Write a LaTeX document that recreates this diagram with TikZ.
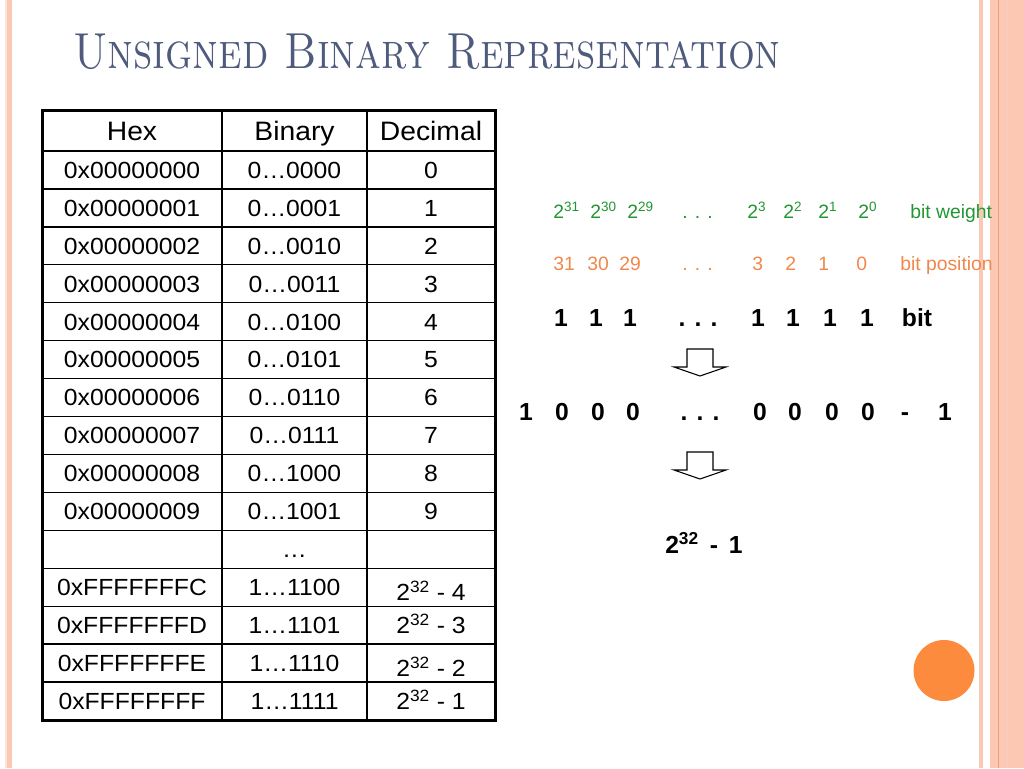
\documentclass[tikz,border=0pt]{standalone}
\usepackage{fontspec}
\usepackage{graphicx}
\setsansfont{Liberation Sans}
\newfontfamily\tabfont[FakeStretch=1.06]{Liberation Sans}
\usepackage{tikz}
\usetikzlibrary{positioning}
\definecolor{titleblue}{RGB}{79,91,125}
\definecolor{weightgreen}{RGB}{34,150,50}
\definecolor{posorange}{RGB}{240,135,75}
\definecolor{bandsalmon}{RGB}{252,200,180}
\definecolor{bandline}{RGB}{232,160,130}
\definecolor{dotorange}{RGB}{253,139,62}
\newcommand{\pw}[1]{\textsuperscript{#1}}
\newcommand{\blockdown}[1]{\draw[blockarrow, shift={(#1)}] (-13,0) -- (13,0) -- (13,18) -- (26,18) -- (0,27) -- (-26,18) -- (-13,18) -- cycle;}

\begin{document}
\begin{tikzpicture}[x=0.75pt, y=-0.75pt,
    cell/.style={draw, line width=1pt, inner sep=0pt, outer sep=0pt, minimum height=28.45pt,
      text height=12.5pt, text depth=0pt, font=\tabfont\fontsize{17.5}{20}\selectfont},
    head/.style={minimum height=30.75pt, text height=14.3pt, font=\tabfont\fontsize{20}{24}\selectfont},
    hexcol/.style={minimum width=135pt},
    bincol/.style={minimum width=108.75pt},
    deccol/.style={minimum width=96pt},
    weight/.style={anchor=base west, inner sep=0pt, text=weightgreen, font=\sffamily\fontsize{14.5}{16}\selectfont},
    position/.style={weight, text=posorange},
    bitval/.style={anchor=base, inner sep=0pt, font=\sffamily\bfseries\fontsize{18.5}{22}\selectfont},
    blockarrow/.style={draw, fill=white, line width=0.8pt}]
    \useasboundingbox (0,0) rectangle (1024,768);

    % slide border bands
    \fill[bandsalmon!50] (5,0) rectangle (7,768);
    \fill[bandsalmon] (7,0) rectangle (12,768);
    \fill[bandsalmon] (979,0) rectangle (983,768);
    \fill[bandsalmon] (990,0) rectangle (1024,768);
    \draw[bandline, line width=0.75pt] (998.5,0) -- (998.5,768);
    \draw[bandline!50, line width=0.5pt] (1007.5,0) -- (1007.5,768);

    \node[anchor=base west, inner sep=0pt, text=titleblue] (title) at (73,68)
      {\scalebox{0.834}[1]{\fontsize{38}{40}\selectfont\textsc{Unsigned Binary Representation}}};

    % table
    \node[cell, head, hexcol] (hex) at (42,110) [anchor=north west] {Hex};
    \node[cell, head, bincol] (bin) [right=0pt of hex] {Binary};
    \node[cell, head, deccol] (dec) [right=0pt of bin] {Decimal};
    \node[cell, hexcol] (a0) [below=0pt of hex] {0x00000000};
    \node[cell, bincol] (b0) [right=0pt of a0] {0…0000};
    \node[cell, deccol] (c0) [right=0pt of b0] {0};
    \node[cell, hexcol] (a1) [below=0pt of a0] {0x00000001};
    \node[cell, bincol] (b1) [right=0pt of a1] {0…0001};
    \node[cell, deccol] (c1) [right=0pt of b1] {1};
    \node[cell, hexcol] (a2) [below=0pt of a1] {0x00000002};
    \node[cell, bincol] (b2) [right=0pt of a2] {0…0010};
    \node[cell, deccol] (c2) [right=0pt of b2] {2};
    \node[cell, hexcol] (a3) [below=0pt of a2] {0x00000003};
    \node[cell, bincol] (b3) [right=0pt of a3] {0…0011};
    \node[cell, deccol] (c3) [right=0pt of b3] {3};
    \node[cell, hexcol] (a4) [below=0pt of a3] {0x00000004};
    \node[cell, bincol] (b4) [right=0pt of a4] {0…0100};
    \node[cell, deccol] (c4) [right=0pt of b4] {4};
    \node[cell, hexcol] (a5) [below=0pt of a4] {0x00000005};
    \node[cell, bincol] (b5) [right=0pt of a5] {0…0101};
    \node[cell, deccol] (c5) [right=0pt of b5] {5};
    \node[cell, hexcol] (a6) [below=0pt of a5] {0x00000006};
    \node[cell, bincol] (b6) [right=0pt of a6] {0…0110};
    \node[cell, deccol] (c6) [right=0pt of b6] {6};
    \node[cell, hexcol] (a7) [below=0pt of a6] {0x00000007};
    \node[cell, bincol] (b7) [right=0pt of a7] {0…0111};
    \node[cell, deccol] (c7) [right=0pt of b7] {7};
    \node[cell, hexcol] (a8) [below=0pt of a7] {0x00000008};
    \node[cell, bincol] (b8) [right=0pt of a8] {0…1000};
    \node[cell, deccol] (c8) [right=0pt of b8] {8};
    \node[cell, hexcol] (a9) [below=0pt of a8] {0x00000009};
    \node[cell, bincol] (b9) [right=0pt of a9] {0…1001};
    \node[cell, deccol] (c9) [right=0pt of b9] {9};
    \node[cell, hexcol] (ad) [below=0pt of a9] {};
    \node[cell, bincol] (bd) [right=0pt of ad] {…};
    \node[cell, deccol] (cd) [right=0pt of bd] {};
    \node[cell, hexcol] (aC) [below=0pt of ad] {0xFFFFFFFC};
    \node[cell, bincol] (bC) [right=0pt of aC] {1…1100};
    \node[cell, deccol] (cC) [right=0pt of bC] {\raisebox{-4pt}{2\pw{32} - 4}};
    \node[cell, hexcol] (aD) [below=0pt of aC] {0xFFFFFFFD};
    \node[cell, bincol] (bD) [right=0pt of aD] {1…1101};
    \node[cell, deccol] (cD) [right=0pt of bD] {2\pw{32} - 3};
    \node[cell, hexcol] (aE) [below=0pt of aD] {0xFFFFFFFE};
    \node[cell, bincol] (bE) [right=0pt of aE] {1…1110};
    \node[cell, deccol] (cE) [right=0pt of bE] {\raisebox{-4pt}{2\pw{32} - 2}};
    \node[cell, hexcol] (aF) [below=0pt of aE] {0xFFFFFFFF};
    \node[cell, bincol] (bF) [right=0pt of aF] {1…1111};
    \node[cell, deccol] (cF) [right=0pt of bF] {2\pw{32} - 1};
    \draw[line width=2pt] (hex.south west) -- (dec.south east);
    \draw[line width=2.25pt] (hex.north west) rectangle (cF.south east);

    % bit weights and positions
    \node[weight] (w31) at (553,218) {2\pw{31}};
    \node[weight] (w30) at (590,218) {2\pw{30}};
    \node[weight] (w29) at (627,218) {2\pw{29}};
    \node[weight] (wdots) at (682,218) {. . .};
    \node[weight] (w3) at (747,218) {2\pw{3}};
    \node[weight] (w2) at (783,218) {2\pw{2}};
    \node[weight] (w1) at (818,218) {2\pw{1}};
    \node[weight] (w0) at (858,218) {2\pw{0}};
    \node[weight] (wlabel) at (910,218) {bit weight};
    \node[position] (p31) at (553,270) {31};
    \node[position] (p30) at (587,270) {30};
    \node[position] (p29) at (619,270) {29};
    \node[position] (pdots) at (682,270) {. . .};
    \node[position] (p3) at (752,270) {3};
    \node[position] (p2) at (785,270) {2};
    \node[position] (p1) at (818,270) {1};
    \node[position] (p0) at (856,270) {0};
    \node[position] (plabel) at (900,270) {bit position};

    % all ones, plus one, minus one
    \node[bitval] (b31) at (561,326) {1};
    \node[bitval] (b30) at (596,326) {1};
    \node[bitval] (b29) at (630,326) {1};
    \node[bitval] (bdots) at (698,326) {. . .};
    \node[bitval] (bb3) at (758,326) {1};
    \node[bitval] (bb2) at (793,326) {1};
    \node[bitval] (bb1) at (830,326) {1};
    \node[bitval] (bb0) at (867,326) {1};
    \node[bitval] (blabel) at (917,326) {bit};
    \blockdown{700,349}
    \node[bitval] (n32) at (526,420) {1};
    \node[bitval] (n31) at (562,420) {0};
    \node[bitval] (n30) at (598,420) {0};
    \node[bitval] (n29) at (633,420) {0};
    \node[bitval] (ndots) at (700,420) {. . .};
    \node[bitval] (n3) at (760,420) {0};
    \node[bitval] (n2) at (795,420) {0};
    \node[bitval] (n1) at (832,420) {0};
    \node[bitval] (n0) at (868,420) {0};
    \node[bitval] (nminus) at (905,420) {-};
    \node[bitval] (none) at (945,420) {1};
    \blockdown{700,452}
    \node[bitval, anchor=base west] (result) at (665,553) {2\pw{32}\,\ -\ \,1};

    \fill[dotorange] (944,670.5) circle (30.5);
\end{tikzpicture}
\end{document}
